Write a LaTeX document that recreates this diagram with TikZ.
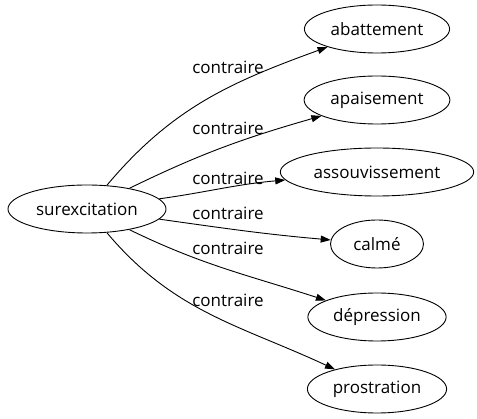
\documentclass[tikz,border=0pt]{standalone}
\usepackage{fontspec}
\setmainfont{Open Sans}
\usetikzlibrary{arrows.meta}
\usetikzlibrary{shapes.geometric}

\tikzset{
  word/.style={ellipse, draw, line width=0.9pt, inner xsep=5pt, inner ysep=2pt,
               minimum width=93pt, minimum height=48pt},
  rel/.style={inner sep=0pt},
  link/.style={line width=0.9pt, -{Triangle[length=10pt, width=7pt]}},
}

\begin{document}
\begin{tikzpicture}[x=1pt, y=1pt, font=\fontsize{17}{20}\selectfont]
\useasboundingbox (0, 0) rectangle (477, -419); % adjust bounding box
\node[word] (sur) at (87, -209) {surexcitation};
\node[word] (aba) at (377, -29) {abattement};
\node[word] (apa) at (377, -100) {apaisement};
\node[word] (ass) at (377, -172) {assouvissement};
\node[word] (cal) at (377, -244) {calmé};
\node[word] (dep) at (377, -317) {dépression};
\node[word] (pro) at (377, -389) {prostration};
\node[rel] (l1) at (228, -67) {contraire};
\node[rel] (l2) at (228, -128) {contraire};
\node[rel] (l3) at (228, -178) {contraire};
\node[rel] (l4) at (228, -213) {contraire};
\node[rel] (l5) at (228, -248) {contraire};
\node[rel] (l6) at (228, -300) {contraire};
\draw[link] (sur) to[out=50, in=200] (aba);
\draw[link] (sur) to[out=26, in=196] (apa);
\draw[link] (sur) to[out=8, in=185] (ass);
\draw[link] (sur) to[out=-8, in=175] (cal);
\draw[link] (sur) to[out=-26, in=162] (dep);
\draw[link] (sur) to[out=-50, in=155] (pro);
\end{tikzpicture}
\end{document}
